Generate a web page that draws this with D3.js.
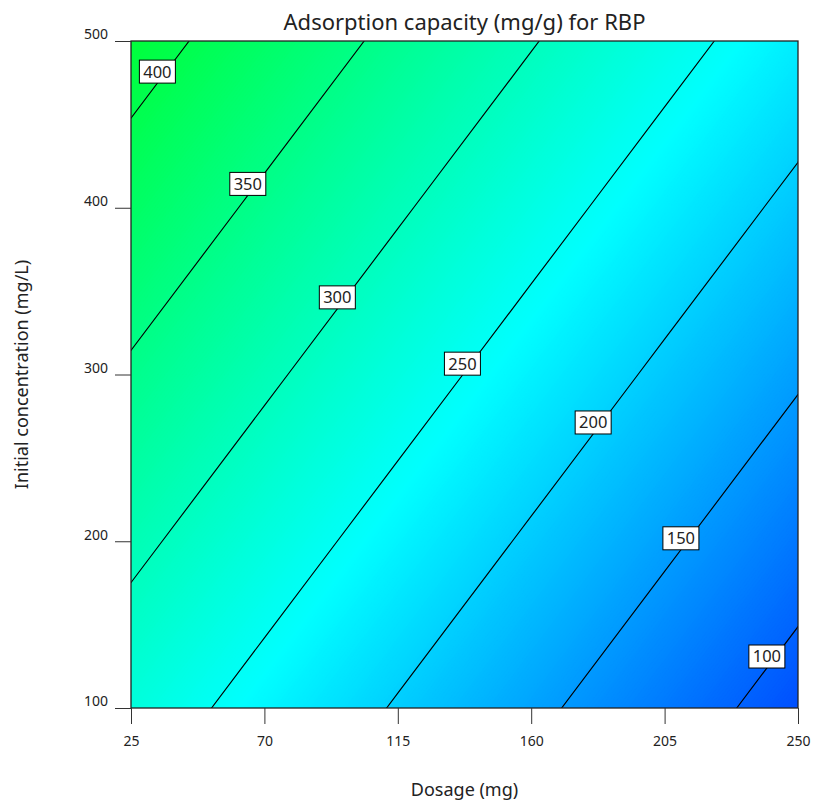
<!DOCTYPE html>
<html>
<head>
<meta charset="utf-8">
<script src="https://cdn.jsdelivr.net/npm/d3@7"></script>
<style>
  body { margin: 0; background: #fff; }
  text { font-family: "Noto Sans", "Open Sans", sans-serif; fill: #222; }
</style>
</head>
<body>
<svg id="chart"></svg>
<script>
// design factors (axis ticks)
const dosage = [25, 70, 115, 160, 205, 250];        // mg
const concentration = [100, 200, 300, 400, 500];   // mg/L

// adsorption capacity (mg/g) at every tick crossing,
// one row per initial concentration (100 -> 500)
const capacity = [
  [273.0, 234.9, 196.8, 158.7, 120.6, 82.5],
  [308.9, 270.8, 232.7, 194.6, 156.5, 118.4],
  [344.8, 306.7, 268.6, 230.5, 192.4, 154.3],
  [380.7, 342.6, 304.5, 266.4, 228.3, 190.2],
  [416.6, 378.5, 340.4, 302.3, 264.2, 226.1]
];

const levels = [100, 150, 200, 250, 300, 350, 400];

function drawContour(svgSelector, width, height) {
  const svg = d3.select(svgSelector)
    .attr("width", width)
    .attr("height", height)
    .attr("viewBox", `0 0 ${width} ${height}`);

  svg.selectAll("*").remove();

  const margin = { top: 41, right: 16, bottom: 100, left: 131 };
  const chartWidth = width - margin.left - margin.right;
  const chartHeight = height - margin.top - margin.bottom;

  const x = d3.scaleLinear()
    .domain(d3.extent(dosage))
    .range([margin.left, margin.left + chartWidth]);

  const y = d3.scaleLinear()
    .domain(d3.extent(concentration))
    .range([margin.top + chartHeight, margin.top]);

  // d3.contours puts sample i at grid coordinate i + 0.5
  const nx = dosage.length, ny = concentration.length;
  const gridX = d3.scaleLinear().domain([0.5, nx - 0.5]).range([x(dosage[0]), x(dosage[nx - 1])]);
  const gridY = d3.scaleLinear().domain([0.5, ny - 0.5]).range([y(concentration[0]), y(concentration[ny - 1])]);

  const path = d3.geoPath(d3.geoTransform({
    point(px, py) { this.stream.point(gridX(px), gridY(py)); }
  }));

  const values = capacity.flat();

  const color = d3.scaleLinear()
    .domain([10, 242, 470])
    .range(["#0000ff", "#00ffff", "#00ff00"])
    .clamp(true);

  svg.append("clipPath")
    .attr("id", "plot-clip")
    .append("rect")
    .attr("x", margin.left)
    .attr("y", margin.top)
    .attr("width", chartWidth)
    .attr("height", chartHeight);

  const plot = svg.append("g").attr("clip-path", "url(#plot-clip)");

  // colour fill: many thin bands
  const bands = d3.contours()
    .size([nx, ny])
    .thresholds(d3.range(60, 430, 1))(values);

  plot.append("g")
    .selectAll("path")
    .data(bands)
    .join("path")
    .attr("d", path)
    .attr("fill", d => color(d.value + 0.5))
    .attr("stroke", d => color(d.value + 0.5))
    .attr("stroke-width", 0.3);

  // contour lines
  const lines = d3.contours()
    .size([nx, ny])
    .thresholds(levels)(values);

  plot.append("g")
    .selectAll("path")
    .data(lines)
    .join("path")
    .attr("d", path)
    .attr("fill", "none")
    .attr("stroke", "#000")
    .attr("stroke-width", 1.15);

  // plot frame
  svg.append("rect")
    .attr("x", margin.left)
    .attr("y", margin.top)
    .attr("width", chartWidth)
    .attr("height", chartHeight)
    .attr("fill", "none")
    .attr("stroke", "#222")
    .attr("stroke-width", 1.3);

  // contour labels, box bottom sits on the line at this dosage
  const labelDose = { 100: 239.5, 150: 210.5, 200: 180.9, 250: 136.8, 300: 94.6, 350: 64.4, 400: 33.9 };

  function pointOn(contour, d) {
    const gx = gridX.invert(x(d));
    for (const poly of contour.coordinates) {
      for (const ring of poly) {
        for (let i = 1; i < ring.length; i++) {
          const [x0, y0] = ring[i - 1], [x1, y1] = ring[i];
          if (x0 === x1 || (x0 - gx) * (x1 - gx) > 0) continue;
          const py = y0 + (gx - x0) / (x1 - x0) * (y1 - y0);
          if (py > 0.5 && py < ny - 0.5) return [gridX(gx), gridY(py)];
        }
      }
    }
    return null;
  }

  const boxW = 36, boxH = 23;
  lines.forEach(c => {
    const p = pointOn(c, labelDose[c.value]);
    if (!p) return;
    const lg = svg.append("g").attr("transform", `translate(${p[0]},${p[1]})`);
    lg.append("rect")
      .attr("x", -boxW / 2)
      .attr("y", -boxH)
      .attr("width", boxW)
      .attr("height", boxH)
      .attr("fill", "#fff")
      .attr("stroke", "#000")
      .attr("stroke-width", 1);
    lg.append("text")
      .attr("x", 0)
      .attr("y", -boxH / 2)
      .attr("dy", "0.36em")
      .attr("text-anchor", "middle")
      .style("font-size", "16.5px")
      .attr("fill", "#111")
      .text(c.value);
  });

  // axes
  const xAxis = svg.append("g")
    .attr("transform", `translate(0,${margin.top + chartHeight})`)
    .call(d3.axisBottom(x).tickValues(dosage).tickSize(16).tickPadding(12));
  xAxis.select(".domain").remove();
  xAxis.selectAll("line").attr("stroke", "#333");
  xAxis.selectAll("text").style("font-size", "14px").attr("fill", "#222");

  const yAxis = svg.append("g")
    .attr("transform", `translate(${margin.left},0)`)
    .call(d3.axisLeft(y).tickValues(concentration).tickSize(16).tickPadding(7));
  yAxis.select(".domain").remove();
  yAxis.selectAll("line").attr("stroke", "#333");
  yAxis.selectAll("text").style("font-size", "14px").attr("fill", "#222").attr("dy", "-0.15em");

  // titles
  svg.append("text")
    .attr("x", margin.left + chartWidth / 2)
    .attr("y", 30)
    .attr("text-anchor", "middle")
    .style("font-size", "22px")
    .text("Adsorption capacity (mg/g) for RBP");

  svg.append("text")
    .attr("x", margin.left + chartWidth / 2)
    .attr("y", 796)
    .attr("text-anchor", "middle")
    .style("font-size", "18px")
    .text("Dosage (mg)");

  svg.append("text")
    .attr("transform", `translate(28,${margin.top + chartHeight / 2}) rotate(-90)`)
    .attr("text-anchor", "middle")
    .style("font-size", "18px")
    .text("Initial concentration (mg/L)");
}

drawContour("#chart", 814, 808);
</script>
</body>
</html>
